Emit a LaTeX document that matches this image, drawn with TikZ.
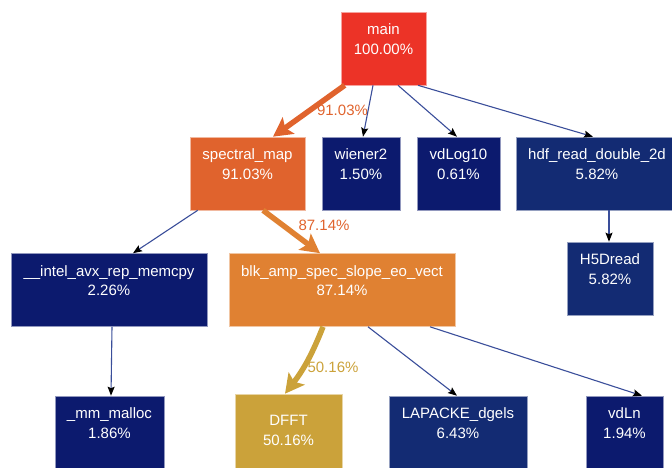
\documentclass[tikz,border=0pt]{standalone}
\usepackage{fontspec}
\setmainfont{Liberation Sans}
\usepackage{xcolor}
\usetikzlibrary{arrows.meta}

\definecolor{hotred}{HTML}{EC3327}
\definecolor{hotorange}{HTML}{E0632D}
\definecolor{warmorange}{HTML}{E08132}
\definecolor{warmgold}{HTML}{CBA23A}
\definecolor{navy}{HTML}{0C1A6E}
\definecolor{midnavy}{HTML}{132B73}
\definecolor{edgeblue}{HTML}{3A4E9A}

\newcommand{\fnlines}[2]{\strut#1\\\strut#2\\\rule[-2pt]{0pt}{2pt}}

\tikzset{
  fnbox/.style={rectangle,draw=white!55!#1,line width=0.6,fill=#1,text=white,align=center,
    minimum height=73,inner sep=0,font=\fontsize{15}{19.5}\selectfont},
  call/.style={draw=edgeblue,line width=1.1,-{Stealth[length=9pt,width=7pt,inset=1.5pt,color=black]}},
  hot/.style={draw=#1,line width=5.5,-{Stealth[length=19pt,width=20pt,inset=4pt]}},
  pct/.style={text=#1,anchor=base,font=\fontsize{15}{18}\selectfont}
}

\begin{document}
\begin{tikzpicture}[x=1pt,y=1pt]
  \useasboundingbox (0,0) rectangle (672,467);

  \node[fnbox=hotred,minimum width=85] (main) at (383.5,418.5) {\fnlines{main}{100.00\%}};

  \node[fnbox=hotorange,minimum width=115] (spectral) at (247.5,293.5) {\fnlines{spectral\_map}{91.03\%}};
  \node[fnbox=navy,minimum width=78] (wiener) at (361,293.5) {\fnlines{wiener2}{1.50\%}};
  \node[fnbox=navy,minimum width=83] (vdlog) at (458.5,293.5) {\fnlines{vdLog10}{0.61\%}};
  \node[fnbox=midnavy,minimum width=162] (hdf) at (597,293.5) {\fnlines{hdf\_read\_double\_2d}{5.82\%}};

  \node[fnbox=navy,minimum width=196] (memcpy) at (109,177) {\fnlines{\_\_intel\_avx\_rep\_memcpy}{2.26\%}};
  \node[fnbox=warmorange,minimum width=226] (blk) at (342,177) {\fnlines{blk\_amp\_spec\_slope\_eo\_vect}{87.14\%}};
  \node[fnbox=midnavy,minimum width=86] (hdread) at (610,188.5) {\fnlines{H5Dread}{5.82\%}};

  \node[fnbox=navy,minimum width=109] (malloc) at (109.5,34.5) {\fnlines{\_mm\_malloc}{1.86\%}};
  \node[fnbox=warmgold,minimum width=107,minimum height=91] (dfft) at (288.5,27.5) {\fnlines{DFFT}{50.16\%}};
  \node[fnbox=midnavy,minimum width=138] (dgels) at (458,34.5) {\fnlines{LAPACKE\_dgels}{6.43\%}};
  \node[fnbox=navy,minimum width=77] (vdln) at (624.5,34.5) {\fnlines{vdLn}{1.94\%}};

  % hot path
  \draw[hot=hotorange] ([xshift=4]main.south west) -- ([xshift=25.5]spectral.north);
  \draw[hot=warmorange] ([xshift=15.5]spectral.south) -- ([xshift=-22]blk.north);
  \draw[hot=warmgold] ([xshift=-19]blk.south) to[bend left=8] ([xshift=-3.5]dfft.north);
  \node[pct=hotorange] (pspectral) at (342.5,352) {91.03\%};
  \node[pct=hotorange] (pblk) at (324,237) {87.14\%};
  \node[pct=warmgold] (pdfft) at (333,95) {50.16\%};

  % cold calls
  \draw[call] ([xshift=-10.5]main.south) -- ([xshift=2]wiener.north);
  \draw[call] ([xshift=14.5]main.south) -- ([xshift=-1.5]vdlog.north);
  \draw[call] ([xshift=34.5]main.south) -- ([xshift=-4]hdf.north);
  \draw[call] ([xshift=8]spectral.south west) -- ([xshift=24]memcpy.north);
  \draw[call] ([xshift=3]memcpy.south) -- ([xshift=1.5]malloc.north);
  \draw[call] ([xshift=12]hdf.south) -- ([xshift=-1]hdread.north);
  \draw[call] ([xshift=26]blk.south) -- ([xshift=-1]dgels.north);
  \draw[call] ([xshift=88]blk.south) -- ([xshift=17.5]vdln.north);
\end{tikzpicture}
\end{document}
